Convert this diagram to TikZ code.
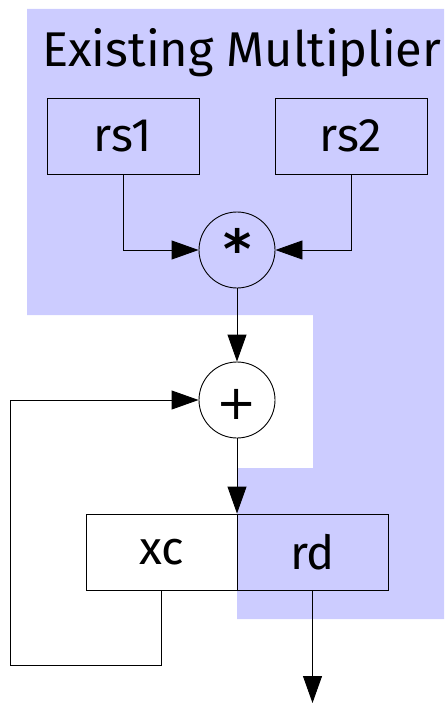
\documentclass[tikz,border=0pt]{standalone}
\usepackage{fontspec}
\setmainfont{Fira Sans}
\newfontfamily\opfont{DejaVu Sans}
\usetikzlibrary{arrows.meta}
\definecolor{regionblue}{HTML}{CCCCFF}
\tikzset{
  box/.style={draw=black, line width=0.9pt, minimum width=152pt, minimum height=76pt, inner sep=0pt, font=\fontsize{47}{56}\selectfont},
  op/.style={draw=black, line width=0.9pt, circle, minimum size=76pt, inner sep=0pt},
  opsym/.style={inner sep=0pt, anchor=base, font=\fontsize{48}{56}\selectfont\opfont},
  arr/.style={draw=black, line width=0.9pt, -{Triangle[length=27pt,width=19pt]}}
}
\begin{document}
\begin{tikzpicture}[x=1pt,y=-1pt]
\useasboundingbox (0,0) rectangle (444,703);
\begin{scope}
\clip (0,0) rectangle (444,703);
\fill[regionblue] (27,9) -- (444,9) -- (444,619) -- (237,619) -- (237,468) -- (313,468) -- (313,315) -- (27,315) -- cycle;
\node[anchor=base west, inner sep=0pt, font=\fontsize{48.8}{58}\selectfont] (title) at (42,67) {Existing Multiplier};
\end{scope}
\node[box] (rs1) at (123,136) {rs1};
\node[box] (rs2) at (351,136) {rs2};
\node[op] (mul) at (237,250) {};
\node[opsym, font=\fontsize{54}{60}\selectfont\opfont\bfseries] (star) at (237.5,268) {*};
\node[op, fill=white] (add) at (237,400) {};
\node[opsym] (plus) at (237,419) {+};
\node[box, fill=white, minimum width=151pt] (xc) at (161.5,552) {xc};
\node[box, fill=regionblue, minimum width=151pt] (rd) at (312.5,552) {rd};
\coordinate (lb) at (10,665);
\coordinate (out) at (312.5,703);
\draw[arr] (rs1.south) |- (mul.west);
\draw[arr] (rs2.south) |- (mul.east);
\draw[arr] (mul.south) -- (add.north);
\draw[arr] (add.south) -- (add.south |- xc.north);
\draw[arr] (xc.south) |- (lb) |- (add.west);
\draw[arr] (rd.south) -- (out);
\end{tikzpicture}
\end{document}
